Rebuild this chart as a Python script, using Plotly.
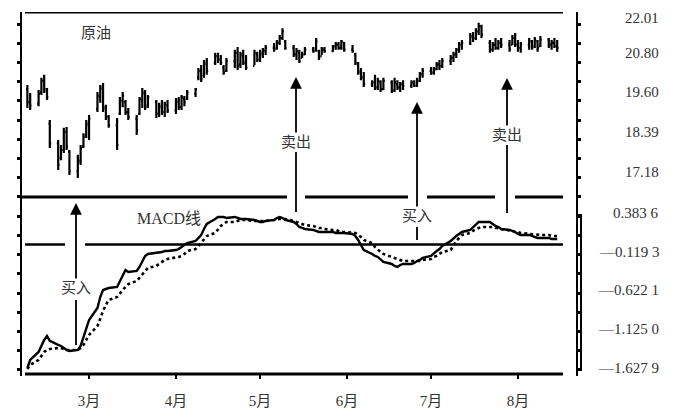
import plotly.graph_objects as go
import pandas as pd

# ---------------- data ----------------
start_date = "1991-02-07"
price_high = [19.82,19.58,19.67,20.04,20.13,19.73,18.76,18.15,18.00,18.52,18.55,17.85,17.70,18.00,18.36,18.76,18.91,19.61,19.82,19.88,
              19.22,18.91,18.82,19.46,19.61,19.37,19.12,18.91,19.46,19.73,19.67,19.52,19.37,19.28,19.37,19.31,19.37,19.43,19.46,19.52,
              19.49,19.67,19.73,20.34,20.43,20.58,20.64,20.80,20.80,20.73,20.43,20.64,20.89,20.98,20.83,20.89,20.73,20.89,20.83,20.89,
              20.95,21.04,21.10,21.19,21.34,21.55,21.19,21.04,20.95,20.89,20.83,20.98,20.98,21.25,20.89,20.98,20.98,21.04,21.13,21.13,
              21.19,21.13,21.04,20.80,20.52,20.34,20.22,19.97,20.13,20.04,19.97,20.04,19.97,20.04,19.97,19.91,19.97,19.97,19.97,20.04,
              20.22,20.34,20.37,20.37,20.52,20.58,20.64,20.73,20.83,20.95,21.13,21.19,21.40,21.43,21.55,21.71,21.65,21.19,21.13,21.25,
              21.19,21.25,21.19,21.34,21.40,21.19,21.13,21.25,21.19,21.28,21.19,21.31,21.25,21.19,21.25,21.19]
price_low = [19.12,19.06,19.18,19.52,19.58,19.37,17.91,17.24,17.54,17.76,17.85,17.09,17.00,17.39,17.91,18.21,18.15,19.00,19.28,19.00,
             18.76,18.52,17.85,18.91,19.15,18.91,18.76,18.30,18.91,19.12,19.06,19.12,18.82,18.85,18.91,18.85,18.97,18.94,19.06,19.06,
             19.18,19.37,19.46,19.97,19.91,20.04,20.13,20.43,20.49,20.43,20.13,20.22,20.34,20.28,20.34,20.43,20.28,20.43,20.52,20.52,
             20.64,20.73,20.83,20.89,21.04,21.19,20.89,20.67,20.58,20.49,20.64,20.73,20.80,20.83,20.58,20.73,20.80,20.83,20.89,20.89,
             20.89,20.83,20.80,20.43,20.13,19.97,19.76,19.76,19.67,19.67,19.61,19.67,19.58,19.61,19.67,19.61,19.67,19.73,19.76,19.76,
             19.91,20.04,20.13,20.13,20.28,20.28,20.34,20.43,20.52,20.64,20.80,20.89,21.04,21.13,21.19,21.34,21.25,20.80,20.83,20.89,
             20.89,20.95,20.83,21.04,20.98,20.83,20.80,20.89,20.89,20.95,20.83,20.98,20.95,20.89,20.95,20.83]
price_open = [19.70,19.30,19.25,19.60,19.95,19.65,18.65,18.05,17.60,17.85,18.40,17.80,17.20,17.50,17.95,18.30,18.60,19.10,19.45,19.75,
              19.15,18.85,18.60,18.95,19.35,19.30,19.00,18.80,18.95,19.35,19.55,19.20,19.30,18.95,19.15,19.00,19.20,19.05,19.30,19.15,
              19.40,19.40,19.55,20.05,20.25,20.10,20.45,20.50,20.70,20.60,20.35,20.25,20.55,20.80,20.45,20.70,20.50,20.40,20.75,20.60,
              20.75,20.85,20.95,20.95,21.10,21.25,21.15,20.95,20.75,20.80,20.65,20.75,20.90,20.90,20.85,20.70,20.90,20.85,21.00,21.05,
              20.95,21.10,20.90,20.75,20.45,20.25,20.05,19.85,19.90,19.75,19.90,19.70,19.90,19.65,19.85,19.75,19.85,19.80,19.85,19.80,
              19.95,20.15,20.25,20.20,20.30,20.45,20.40,20.55,20.65,20.75,20.90,21.05,21.10,21.30,21.25,21.45,21.60,21.10,20.90,21.05,
              20.95,21.10,21.05,21.05,21.25,21.05,20.95,21.05,21.15,21.00,21.15,21.00,21.20,21.05,21.10,21.00]
price_close = [19.30,19.20,19.55,19.95,19.70,19.45,18.05,17.40,17.85,18.40,17.95,17.20,17.55,17.90,18.25,18.65,18.80,19.50,19.70,19.10,
               18.85,18.60,18.00,19.35,19.50,19.00,18.85,18.45,19.40,19.60,19.15,19.45,18.95,19.20,19.00,19.25,19.05,19.35,19.15,19.45,
               19.30,19.60,19.70,20.25,20.00,20.50,20.25,20.70,20.60,20.50,20.20,20.55,20.80,20.40,20.75,20.50,20.35,20.80,20.60,20.80,
               20.90,20.95,20.90,21.10,21.25,21.45,20.95,20.75,20.85,20.55,20.75,20.90,20.85,21.15,20.65,20.90,20.85,21.00,21.05,20.95,
               21.15,20.90,20.85,20.50,20.20,20.05,19.85,19.90,19.75,19.95,19.70,19.95,19.65,19.90,19.75,19.85,19.80,19.90,19.80,19.95,
               20.15,20.25,20.20,20.30,20.45,20.40,20.55,20.65,20.75,20.90,21.05,21.10,21.30,21.25,21.45,21.60,21.35,20.90,21.05,20.95,
               21.10,21.05,20.90,21.25,21.05,20.95,21.05,21.15,20.95,21.20,20.95,21.20,21.05,21.10,21.00,20.95]
macd_line = [-1.602,-1.498,-1.394,-1.316,-1.238,-1.186,-1.251,-1.303,-1.316,-1.342,-1.368,-1.381,-1.368,-1.316,-1.212,-1.109,-0.979,-0.823,-0.681,-0.590,
             -0.577,-0.564,-0.551,-0.473,-0.395,-0.330,-0.356,-0.343,-0.291,-0.226,-0.148,-0.122,-0.110,-0.110,-0.097,-0.084,-0.084,-0.071,-0.058,-0.032,
             -0.006,0.020,0.046,0.085,0.124,0.202,0.267,0.332,0.358,0.358,0.358,0.345,0.358,0.345,0.332,0.332,0.332,0.319,0.306,0.293,
             0.293,0.306,0.319,0.345,0.358,0.345,0.319,0.293,0.267,0.228,0.215,0.202,0.189,0.176,0.163,0.163,0.163,0.163,0.150,0.150,
             0.150,0.150,0.137,0.111,0.059,-0.006,-0.071,-0.122,-0.148,-0.161,-0.200,-0.226,-0.252,-0.278,-0.291,-0.265,-0.252,-0.252,-0.239,-0.213,
             -0.200,-0.174,-0.148,-0.110,-0.084,-0.058,-0.019,0.046,0.085,0.111,0.137,0.163,0.189,0.228,0.267,0.293,0.293,0.293,0.267,0.241,
             0.228,0.202,0.189,0.176,0.163,0.137,0.124,0.124,0.111,0.098,0.085,0.085,0.085,0.072,0.072,0.072]
signal_line = [-1.615,-1.563,-1.498,-1.446,-1.394,-1.368,-1.355,-1.342,-1.342,-1.355,-1.368,-1.368,-1.368,-1.342,-1.303,-1.238,-1.173,-1.057,-0.953,-0.862,
               -0.784,-0.719,-0.681,-0.629,-0.590,-0.551,-0.512,-0.473,-0.434,-0.382,-0.343,-0.304,-0.278,-0.252,-0.226,-0.200,-0.187,-0.174,-0.161,-0.148,
               -0.122,-0.084,-0.058,-0.019,0.020,0.059,0.111,0.150,0.202,0.241,0.267,0.293,0.293,0.306,0.319,0.319,0.319,0.306,0.306,0.306,
               0.306,0.306,0.319,0.332,0.332,0.332,0.332,0.306,0.293,0.280,0.267,0.254,0.241,0.228,0.215,0.215,0.202,0.189,0.189,0.176,
               0.163,0.163,0.150,0.150,0.124,0.098,0.059,0.020,-0.032,-0.071,-0.097,-0.122,-0.161,-0.174,-0.187,-0.200,-0.213,-0.213,-0.213,-0.213,
               -0.213,-0.200,-0.187,-0.161,-0.148,-0.122,-0.097,-0.071,-0.006,0.046,0.085,0.124,0.150,0.176,0.202,0.215,0.228,0.228,0.228,0.215,
               0.215,0.202,0.189,0.176,0.163,0.163,0.150,0.137,0.137,0.124,0.124,0.124,0.124,0.111,0.111,0.111]

month_ticks = ["1991-03-01", "1991-04-01", "1991-05-01", "1991-06-01", "1991-07-01", "1991-08-01"]
month_labels = ["3月", "4月", "5月", "6月", "7月", "8月"]
price_tick_vals = [22.01, 20.80, 19.60, 18.39, 17.18]
price_tick_text = ["22.01", "20.80", "19.60", "18.39", "17.18"]
macd_tick_vals = [0.3836, -0.1193, -0.6221, -1.1250, -1.6279]
macd_tick_text = ["0.383 6", "\u20140.119 3", "\u20140.622 1", "\u20141.125 0", "\u20141.627 9"]

dates = pd.bdate_range(start_date, periods=len(price_high))

# ---------------- figure ----------------
# page has an 8px body margin, so the figure is sized to fit the window
OFF = 8
W, H = 690 - 2 * OFF, 419 - 2 * OFF
FONT = "Liberation Serif, Noto Sans CJK SC, serif"
TXT = "#333333"

def px(x):           # page pixel -> paper x
    return (x - OFF) / W

def py(y):           # page pixel -> paper y
    return 1 - (y - OFF) / H

x_range = ["1991-02-05 02:00", "1991-08-21 17:00"]
dom_x = [px(22), px(576)]

fig = go.Figure()
fig.add_trace(go.Ohlc(x=dates, open=price_open, high=price_high, low=price_low, close=price_close,
                      xaxis="x", yaxis="y", tickwidth=0.5,
                      increasing=dict(line=dict(color="black", width=2.2)),
                      decreasing=dict(line=dict(color="black", width=2.2)),
                      showlegend=False, hoverinfo="skip"))
fig.add_trace(go.Scatter(x=dates, y=signal_line, xaxis="x2", yaxis="y2", mode="lines",
                         line=dict(color="black", width=2.6, dash="dot"), showlegend=False))
fig.add_trace(go.Scatter(x=dates, y=macd_line, xaxis="x2", yaxis="y2", mode="lines",
                         line=dict(color="black", width=2.4), showlegend=False))

fig.update_layout(
    width=W, height=H, autosize=False,
    margin=dict(l=0, r=0, t=0, b=0),
    paper_bgcolor="white", plot_bgcolor="rgba(0,0,0,0)",
    showlegend=False,
    xaxis=dict(domain=dom_x, range=x_range, type="date", visible=False, anchor="y",
               rangeslider=dict(visible=False), fixedrange=True),
    yaxis=dict(domain=[py(197), py(12)], range=[16.42, 22.04], visible=False, anchor="x"),
    xaxis2=dict(domain=dom_x, range=x_range, type="date", anchor="y2", showline=False,
                showgrid=False, zeroline=False, ticks="outside", ticklen=4, tickwidth=2,
                tickcolor="black", tickvals=month_ticks, ticktext=month_labels,
                ticklabelstandoff=9, tickfont=dict(family=FONT, size=15, color=TXT)),
    yaxis2=dict(domain=[py(374), py(197)], range=[-1.680, 0.617], visible=False, anchor="x2"),
    yaxis3=dict(domain=[py(376), py(12)], range=[376, 12], anchor="x", showline=True,
                linewidth=2, linecolor="black", mirror="ticks", ticks="outside",
                tick0=24, dtick=19.22, ticklen=3, tickwidth=3, tickcolor="black",
                showticklabels=False, showgrid=False, zeroline=False),
    yaxis4=dict(range=[376, 12], overlaying="y3", anchor="x", showline=False,
                mirror="ticks", ticks="inside", tick0=24, dtick=19.22, ticklen=3,
                tickwidth=3, tickcolor="black", showticklabels=False, showgrid=False,
                zeroline=False),
)

shapes = []
def hline(x0, x1, y, w=3, yref="y3"):
    shapes.append(dict(type="line", xref="paper", yref=yref, x0=px(x0), x1=px(x1),
                       y0=y, y1=y, line=dict(color="black", width=w)))

def vline(x, y0, y1, w=1.8):
    shapes.append(dict(type="line", xref="paper", yref="y3", x0=px(x), x1=px(x),
                       y0=y0, y1=y1, line=dict(color="black", width=w)))

# top border, panel separator (with gaps), bottom axis line
hline(25, 563, 12)
for a, b in [(22, 287), (305, 408), (427, 495), (515, 563)]:
    hline(a, b, 197)
hline(25, 563, 374)
# MACD zero line (with a gap for the arrow)
for a, b in [(25, 65), (85, 563)]:
    shapes.append(dict(type="line", xref="paper", yref="y2", x0=px(a), x1=px(b),
                       y0=0, y1=0, line=dict(color="black", width=2.5)))
# right bracket of MACD scale
shapes.append(dict(type="path", xref="paper", yref="y3",
                   path=f"M {px(576)},215 L {px(581)},215 L {px(581)},370 L {px(576)},370",
                   line=dict(color="black", width=2)))
# arrow tails below their labels
vline(76, 300, 345)
vline(296, 152, 212)
vline(417, 227, 240)
vline(507, 145, 213)
fig.update_layout(shapes=shapes)

ann = []
def arrow(x, yhead, text, ytext):
    ann.append(dict(xref="paper", yref="y3", x=px(x), y=yhead, text=text, showarrow=True,
                    axref="pixel", ayref="pixel", ax=0, ay=ytext - yhead,
                    arrowhead=2, arrowsize=1.3, arrowwidth=1.8, arrowcolor="black",
                    standoff=0, font=dict(family=FONT, size=15, color=TXT)))

arrow(76, 203, "买入", 288)
arrow(296, 77, "卖出", 142)
arrow(417, 102, "买入", 216)
arrow(507, 78, "卖出", 135)

ann.append(dict(xref="paper", yref="y3", x=px(79), y=33, text="原油", showarrow=False,
                font=dict(family=FONT, size=15, color=TXT)))
ann.append(dict(xref="paper", yref="y3", x=px(135), y=218, text="MACD线", showarrow=False,
                font=dict(family=FONT, size=16, color=TXT)))

for k, (v, t) in enumerate(zip(price_tick_vals, price_tick_text)):
    extra = dict(yanchor="top", yshift=5) if k == 0 else {}
    ann.append(dict(xref="paper", yref="y", x=px(661), y=v, text=t, showarrow=False,
                    xanchor="right", font=dict(family=FONT, size=15, color=TXT), **extra))
for v, t in zip(macd_tick_vals, macd_tick_text):
    ann.append(dict(xref="paper", yref="y2", x=px(661), y=v, text=t, showarrow=False,
                    xanchor="right", yshift=2, font=dict(family=FONT, size=15, color=TXT)))

fig.update_layout(annotations=ann)
fig.write_html("out.html")
